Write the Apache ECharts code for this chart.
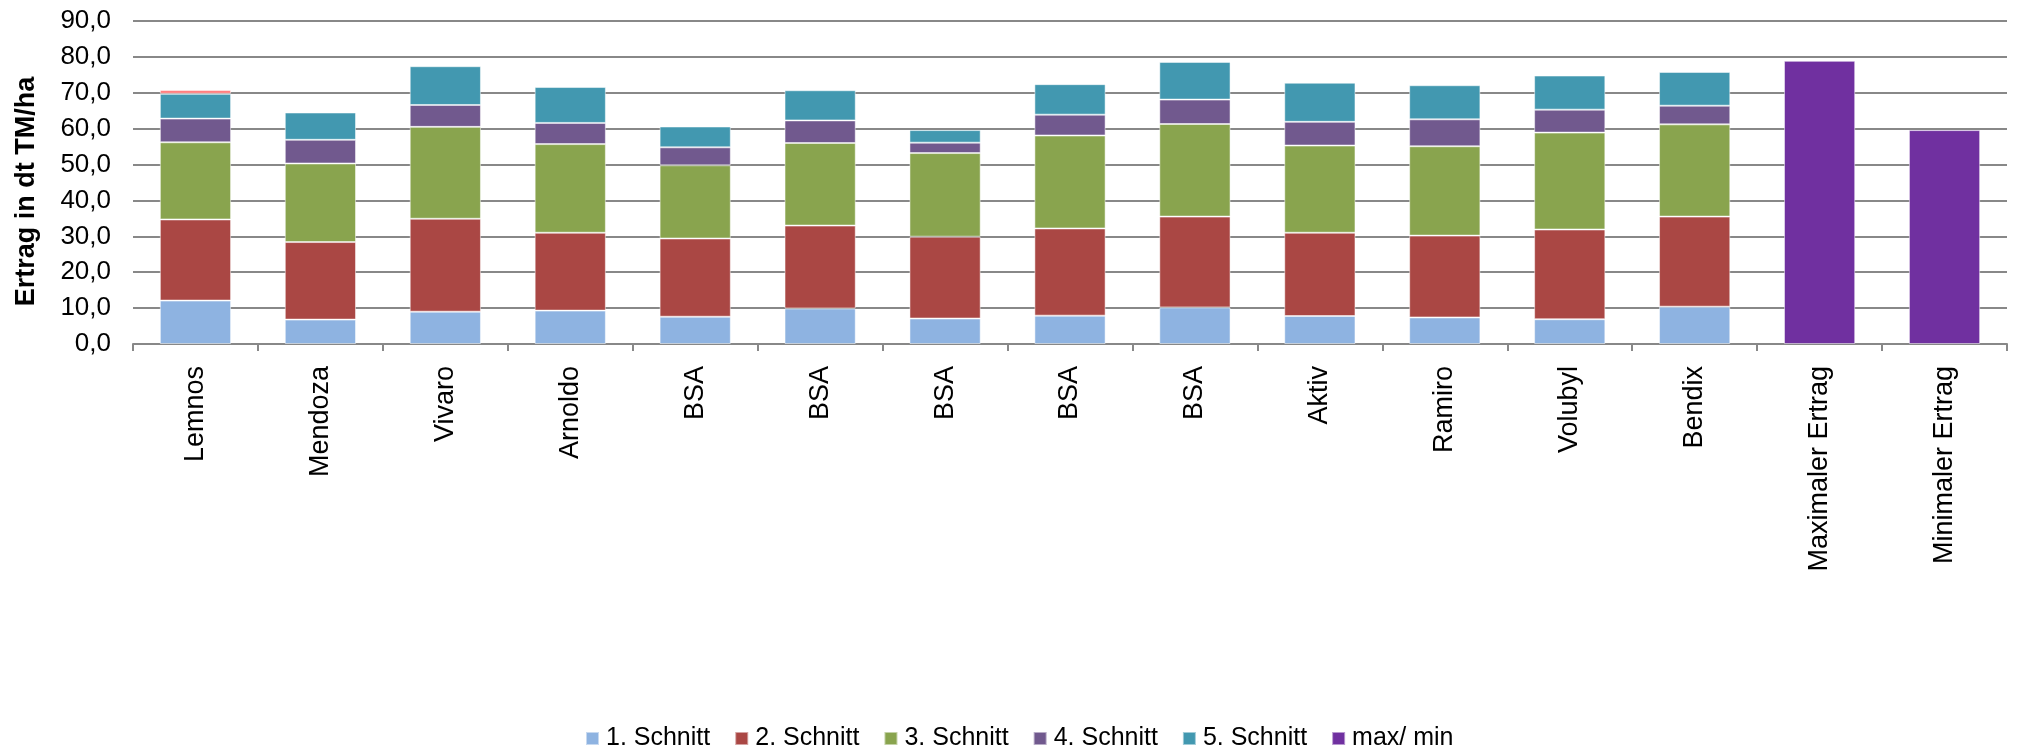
<!DOCTYPE html>
<html>
<head>
    <meta charset="utf-8">
    <title>Ertrag</title>
    <script src="https://cdn.jsdelivr.net/npm/echarts@6/dist/echarts.min.js"></script>
    <style>
        html, body { margin: 0; padding: 0; background: #fff; }
    </style>
</head>
<body>
    <div id="main" style="width: 2029px;height:750px;"></div>
    <script type="text/javascript">
        // Sorten
        var sorten = ['Lemnos', 'Mendoza', 'Vivaro', 'Arnoldo', 'BSA', 'BSA', 'BSA', 'BSA', 'BSA',
            'Aktiv', 'Ramiro', 'Volubyl', 'Bendix', 'Maximaler Ertrag', 'Minimaler Ertrag'];

        // Ertrag je Schnitt (dt TM/ha)
        var schnitt1 = [12.1, 6.8, 9.0, 9.3, 7.6, 9.9, 7.1, 7.9, 10.2, 7.8, 7.4, 6.9, 10.4, '-', '-'];
        var schnitt2 = [22.6, 21.6, 25.9, 21.7, 21.8, 23.1, 22.8, 24.3, 25.3, 23.2, 22.8, 25.0, 25.1, '-', '-'];
        var schnitt3 = [21.5, 21.9, 25.6, 24.7, 20.4, 23.0, 23.3, 25.9, 25.8, 24.3, 24.9, 27.0, 25.7, '-', '-'];
        var schnitt4 = [6.6, 6.6, 6.1, 5.9, 5.0, 6.3, 2.9, 5.8, 6.8, 6.6, 7.5, 6.4, 5.2, '-', '-'];
        var schnitt5 = [6.9, 7.6, 10.8, 10.0, 5.8, 8.4, 3.5, 8.5, 10.5, 10.9, 9.5, 9.5, 9.4, '-', '-'];
        var schnitt6 = [1.1, '-', '-', '-', '-', '-', '-', '-', '-', '-', '-', '-', '-', '-', '-'];
        var maxMin = ['-', '-', '-', '-', '-', '-', '-', '-', '-', '-', '-', '-', '-', 78.9, 59.6];

        var namen = ['1. Schnitt', '2. Schnitt', '3. Schnitt', '4. Schnitt', '5. Schnitt', '6. Schnitt', 'max/ min'];
        var farben = ['#8EB3E1', '#AA4744', '#89A44E', '#71598E', '#4298B0', '#FF8080', '#7030A0'];
        var werte = [schnitt1, schnitt2, schnitt3, schnitt4, schnitt5, schnitt6, maxMin];

        var series = [];
        for (var i = 0; i < namen.length; i++) {
            series.push({
                name: namen[i],
                type: 'bar',
                stack: 'total',
                barCategoryGap: '43%',
                itemStyle: {
                    color: farben[i],
                    borderColor: 'rgba(255,255,255,0.5)',
                    borderWidth: 1
                },
                data: werte[i]
            });
        }

        var option = {
            animation: false,
            legend: {
                data: ['1. Schnitt', '2. Schnitt', '3. Schnitt', '4. Schnitt', '5. Schnitt', 'max/ min'],
                left: 580,
                top: 721,
                itemWidth: 13,
                itemHeight: 13,
                itemGap: 24,
                icon: 'rect',
                textStyle: {
                    fontFamily: '"Liberation Sans", Arial, sans-serif',
                    fontSize: 25,
                    color: '#000',
                    padding: [0, 0, 0, 2]
                }
            },
            grid: {
                left: 133,
                right: 22,
                top: 21,
                bottom: 406
            },
            xAxis: {
                type: 'category',
                data: sorten,
                axisLine: { lineStyle: { color: '#888', width: 2 } },
                axisTick: { show: true, length: 7, lineStyle: { color: '#888', width: 2 } },
                axisLabel: {
                    rotate: 90,
                    interval: 0,
                    margin: 22,
                    fontFamily: '"Liberation Sans", Arial, sans-serif',
                    fontSize: 27,
                    color: '#000'
                }
            },
            yAxis: {
                type: 'value',
                min: 0,
                max: 90,
                interval: 10,
                name: 'Ertrag in dt TM/ha',
                nameLocation: 'middle',
                nameGap: 93,
                nameTextStyle: {
                    fontFamily: '"Liberation Sans", Arial, sans-serif',
                    fontSize: 27,
                    fontWeight: 'bold',
                    color: '#000',
                    padding: [0, 18, 0, 0]
                },
                axisLine: { show: false },
                axisTick: { show: false },
                splitLine: { lineStyle: { color: '#888', width: 2 } },
                axisLabel: {
                    margin: 22,
                    fontFamily: '"Liberation Sans", Arial, sans-serif',
                    fontSize: 26,
                    color: '#000',
                    formatter: function (v) {
                        return v.toFixed(1).replace('.', ',');
                    }
                }
            },
            series: series
        };

        var myChart = echarts.init(document.getElementById('main'));
        myChart.setOption(option);
    </script>
</body>
</html>
